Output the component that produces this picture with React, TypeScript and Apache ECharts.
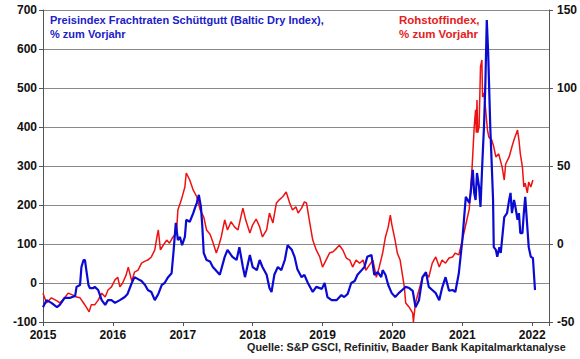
import React, { useEffect, useRef } from "react";
import * as echarts from "echarts";

// Baltic Dry Index, % yoy (left axis)
const bdiDates = [
  2015.0, 2015.05, 2015.12, 2015.2, 2015.24, 2015.31, 2015.39, 2015.46, 2015.48, 2015.53,
  2015.55, 2015.58, 2015.6, 2015.62, 2015.65, 2015.67, 2015.72, 2015.74, 2015.79, 2015.84,
  2015.89, 2015.93, 2015.98, 2016.03, 2016.1, 2016.17, 2016.21, 2016.27, 2016.31, 2016.36,
  2016.41, 2016.46, 2016.5, 2016.55, 2016.6, 2016.65, 2016.7, 2016.74, 2016.79, 2016.84,
  2016.87, 2016.9, 2016.93, 2016.96, 2016.99, 2017.03, 2017.05, 2017.1, 2017.15, 2017.17,
  2017.2, 2017.23, 2017.26, 2017.28, 2017.3, 2017.34, 2017.39, 2017.43, 2017.46, 2017.53,
  2017.6, 2017.64, 2017.71, 2017.77, 2017.81, 2017.86, 2017.89, 2017.96, 2018.0, 2018.06,
  2018.1, 2018.14, 2018.2, 2018.24, 2018.27, 2018.31, 2018.36, 2018.41, 2018.46, 2018.5,
  2018.56, 2018.6, 2018.64, 2018.7, 2018.74, 2018.79, 2018.86, 2018.91, 2018.99, 2019.03,
  2019.07, 2019.13, 2019.2, 2019.27, 2019.31, 2019.36, 2019.41, 2019.46, 2019.5, 2019.56,
  2019.6, 2019.64, 2019.7, 2019.74, 2019.79, 2019.84, 2019.86, 2019.9, 2019.94, 2019.99,
  2020.04, 2020.09, 2020.14, 2020.19, 2020.24, 2020.29, 2020.33, 2020.38, 2020.43, 2020.48,
  2020.52, 2020.57, 2020.62, 2020.67, 2020.71, 2020.76, 2020.81, 2020.86, 2020.9, 2020.95,
  2021.0, 2021.05, 2021.1, 2021.12, 2021.15, 2021.17, 2021.19, 2021.21, 2021.24, 2021.26,
  2021.29, 2021.31, 2021.33, 2021.35, 2021.37, 2021.4, 2021.42, 2021.44, 2021.45, 2021.48,
  2021.5, 2021.53, 2021.55, 2021.6, 2021.64, 2021.67, 2021.69, 2021.71, 2021.74, 2021.76,
  2021.79, 2021.81, 2021.83, 2021.86, 2021.88, 2021.9, 2021.93, 2021.95, 2021.98, 2022.01,
  2022.04,
];
const bdiValues = [
  -62, -44, -51, -62, -56, -38, -38, -33, -10, -5,
  41, 59, 59, 33, -5, -13, -13, -10, -18, -44,
  -56, -44, -44, -51, -44, -36, -28, 0, 15, 10,
  5, -5, -18, -23, -44, -28, -5, 0, 15, 25,
  85, 154, 110, 118, 97, 118, 162, 157, 179, 190,
  205, 226, 195, 144, 77, 59, 55, 41, 35, 21,
  67, 85, 67, 59, 92, 41, 15, 72, 41, 33,
  59, 41, 21, -13, -23, 21, 41, 33, 59, 97,
  85, 67, 35, 15, 21, 0, -23, -10, -15, 0,
  -36, -44, -44, -31, -36, -28, 0, 5, 21, 33,
  41, 67, 72, 21, 28, 15, 33, 21, -5, -26,
  -36, -26, -18, -10, -13, -20, -62, -44, 15, 28,
  -10, -18, -26, -44, -13, 15, -20, -18, -23, 25,
  110, 221, 205, 231, 290, 231, 213, 282, 246, 195,
  323, 400, 513, 674, 590, 400, 308, 213, 92, 85,
  67, 92, 77, 169, 179, 213, 231, 179, 213, 195,
  162, 179, 128, 128, 179, 221, 144, 92, 67, 64,
  -18,
];

// Commodity index (S&P GSCI), % yoy (right axis)
const gsciDates = [
  2015.0, 2015.05, 2015.12, 2015.2, 2015.24, 2015.31, 2015.36, 2015.43, 2015.48, 2015.53,
  2015.58, 2015.62, 2015.66, 2015.69, 2015.74, 2015.79, 2015.84, 2015.89, 2015.93, 2015.98,
  2016.03, 2016.07, 2016.1, 2016.14, 2016.19, 2016.22, 2016.27, 2016.31, 2016.36, 2016.41,
  2016.46, 2016.5, 2016.55, 2016.6, 2016.63, 2016.65, 2016.68, 2016.72, 2016.77, 2016.81,
  2016.86, 2016.91, 2016.93, 2016.98, 2017.03, 2017.05, 2017.1, 2017.15, 2017.2, 2017.25,
  2017.3, 2017.34, 2017.39, 2017.43, 2017.48, 2017.51, 2017.55, 2017.6, 2017.64, 2017.69,
  2017.74, 2017.79, 2017.86, 2017.9, 2017.96, 2018.0, 2018.05, 2018.1, 2018.14, 2018.2,
  2018.24, 2018.29, 2018.34, 2018.38, 2018.43, 2018.48, 2018.53, 2018.57, 2018.62, 2018.65,
  2018.7, 2018.74, 2018.77, 2018.81, 2018.86, 2018.91, 2018.96, 2019.0, 2019.05, 2019.1,
  2019.15, 2019.2, 2019.24, 2019.29, 2019.34, 2019.39, 2019.43, 2019.48, 2019.53, 2019.58,
  2019.62, 2019.67, 2019.72, 2019.77, 2019.81, 2019.86, 2019.9, 2019.94, 2019.97, 2019.99,
  2020.04, 2020.07, 2020.11, 2020.17, 2020.19, 2020.24, 2020.29, 2020.3, 2020.33, 2020.38,
  2020.43, 2020.48, 2020.52, 2020.57, 2020.62, 2020.67, 2020.71, 2020.76, 2020.81, 2020.86,
  2020.9, 2020.95, 2021.0, 2021.05, 2021.1, 2021.12, 2021.14, 2021.17, 2021.19, 2021.2,
  2021.21, 2021.22, 2021.24, 2021.26, 2021.28, 2021.29, 2021.31, 2021.33, 2021.36, 2021.38,
  2021.42, 2021.45, 2021.48, 2021.52, 2021.57, 2021.6, 2021.62, 2021.67, 2021.71, 2021.74,
  2021.79, 2021.81, 2021.83, 2021.86, 2021.88, 2021.9, 2021.93, 2021.95, 2021.98, 2022.01,
];
const gsciValues = [
  -31.5, -37.8, -34.5, -36.5, -37.8, -34.5, -31.5, -32.8, -34, -34.5,
  -37.8, -40.5, -43.5, -39, -39, -36, -31.5, -34, -29.5, -27.5,
  -23, -21.3, -27.5, -25, -19.8, -14.8, -23.8, -18, -16.8, -12.3,
  -11, -10.3, -8.3, -3.8, 4.5, 9, -3.8, -0.8, 2.5, 0.5,
  4.5, 7, 21.8, 28.3, 36.5, 45.5, 41, 34.5, 30.3, 21.8,
  17.3, 9, 6.3, 1.3, -5.8, -2, 4.5, 15.5, 9, 14.3,
  11, 9, 23, 15.5, 7, 12.3, 16, 11, 4.5, 9,
  19.8, 13.5, 26.3, 28.3, 30.3, 33.3, 26.3, 21.8, 23.8, 19.8,
  23, 27, 26.3, 15.5, 2.5, -3.8, -8.3, -14.8, -10.3, -5.8,
  -5, -2.8, -0.8, -3.8, -9, -10.3, -14.8, -10.3, -12.3, -10.3,
  -16.8, -13.5, -10.3, -21.3, -15, -5.8, 4.5, 11, 18.5, 12.8,
  2, -5.8, -10.3, -27.5, -37.8, -40.5, -44.3, -50, -37.8, -29.5,
  -21.3, -19.3, -21.3, -12.3, -8.3, -14.8, -10.3, -12.3, -9, -8.3,
  -5.8, -7, 2.5, 12.5, 22.5, 36.5, 49.3, 75, 86, 71.3,
  92.3, 71.3, 75, 113.5, 118, 94.3, 96.8, 87.8, 73, 68.5,
  66.8, 62.3, 55.8, 57.8, 49.3, 41, 51.3, 55.8, 62.3, 66.8,
  73, 66.8, 57.8, 49.3, 36.5, 39, 32.8, 39.8, 36.5, 41,
];

const years = [2015, 2016, 2017, 2018, 2019, 2020, 2021, 2022];
const leftTicks = [-100, 0, 100, 200, 300, 400, 500, 600, 700];
const rightTicks = [-50, 0, 50, 100, 150];

const bdiTitle = ["Preisindex Frachtraten Schüttgutt (Baltic Dry Index),", "% zum Vorjahr"];
const gsciTitle = ["Rohstoffindex,", "% zum Vorjahr"];
const sourceText = "Quelle: S&P GSCI, Refinitiv, Baader Bank Kapitalmarktanalyse";

const FONT = "Liberation Sans, Arial, sans-serif";
const BLUE = "#0a0ad2";
const RED = "#ee1111";

export default function App() {
  const ref = useRef<HTMLDivElement>(null);
  useEffect(() => {
    if (!ref.current) return;
    const chart = echarts.init(ref.current, null, { renderer: "svg" });
    const axisLabelStyle = {
      color: "#111",
      fontFamily: FONT,
      fontWeight: "bold" as const,
      fontSize: 12,
    };
    chart.setOption({
      animation: false,
      backgroundColor: "#ffffff",
      grid: { left: 43, right: 31, top: 10, bottom: 37, containLabel: false },
      xAxis: {
        type: "value",
        min: years[0],
        max: 2022.24,
        interval: 1,
        axisLine: { show: true, onZero: false, lineStyle: { color: "#555", width: 1 } },
        axisTick: { show: true, length: 4, lineStyle: { color: "#555" } },
        splitLine: { show: false },
        axisLabel: {
          ...axisLabelStyle,
          margin: 7,
          formatter: (v: number) => (years.includes(v) ? String(v) : ""),
        },
      },
      yAxis: [
        {
          type: "value",
          min: leftTicks[0],
          max: leftTicks[leftTicks.length - 1],
          interval: 100,
          position: "left",
          axisLine: { show: true, lineStyle: { color: "#555" } },
          axisTick: { show: true, length: 4, lineStyle: { color: "#555" } },
          splitLine: { show: true, lineStyle: { color: "#8a8a8a", width: 1 } },
          axisLabel: { ...axisLabelStyle, margin: 6 },
        },
        {
          type: "value",
          min: rightTicks[0],
          max: rightTicks[rightTicks.length - 1],
          interval: 50,
          position: "right",
          axisLine: { show: true, lineStyle: { color: "#555" } },
          axisTick: { show: true, length: 4, lineStyle: { color: "#555" } },
          splitLine: { show: false },
          axisLabel: { ...axisLabelStyle, margin: 8 },
        },
      ],
      series: [
        {
          type: "line",
          yAxisIndex: 1,
          showSymbol: false,
          data: gsciDates.map((d, i) => [d, gsciValues[i]]),
          lineStyle: { color: RED, width: 1.5 },
          itemStyle: { color: RED },
          z: 2,
        },
        {
          type: "line",
          yAxisIndex: 0,
          showSymbol: false,
          data: bdiDates.map((d, i) => [d, bdiValues[i]]),
          lineStyle: { color: BLUE, width: 2.2 },
          itemStyle: { color: BLUE },
          z: 3,
        },
      ],
      graphic: [
        {
          type: "text",
          left: 50,
          top: 13,
          style: {
            text: bdiTitle.join("\n"),
            fill: "#2020c8",
            font: `bold 11px ${FONT}`,
            lineHeight: 14,
          },
        },
        {
          type: "text",
          left: 399,
          top: 13,
          style: {
            text: gsciTitle.join("\n"),
            fill: "#e52020",
            font: `bold 11.5px ${FONT}`,
            lineHeight: 14,
          },
        },
        {
          type: "text",
          right: 14,
          top: 341,
          style: {
            text: sourceText,
            fill: "#222",
            font: `bold 10.8px ${FONT}`,
          },
        },
      ],
    });
    return () => chart.dispose();
  }, []);
  return (
    <div
      ref={ref}
      style={{ position: "absolute", left: 0, top: 0, width: 580, height: 359 }}
    />
  );
}
